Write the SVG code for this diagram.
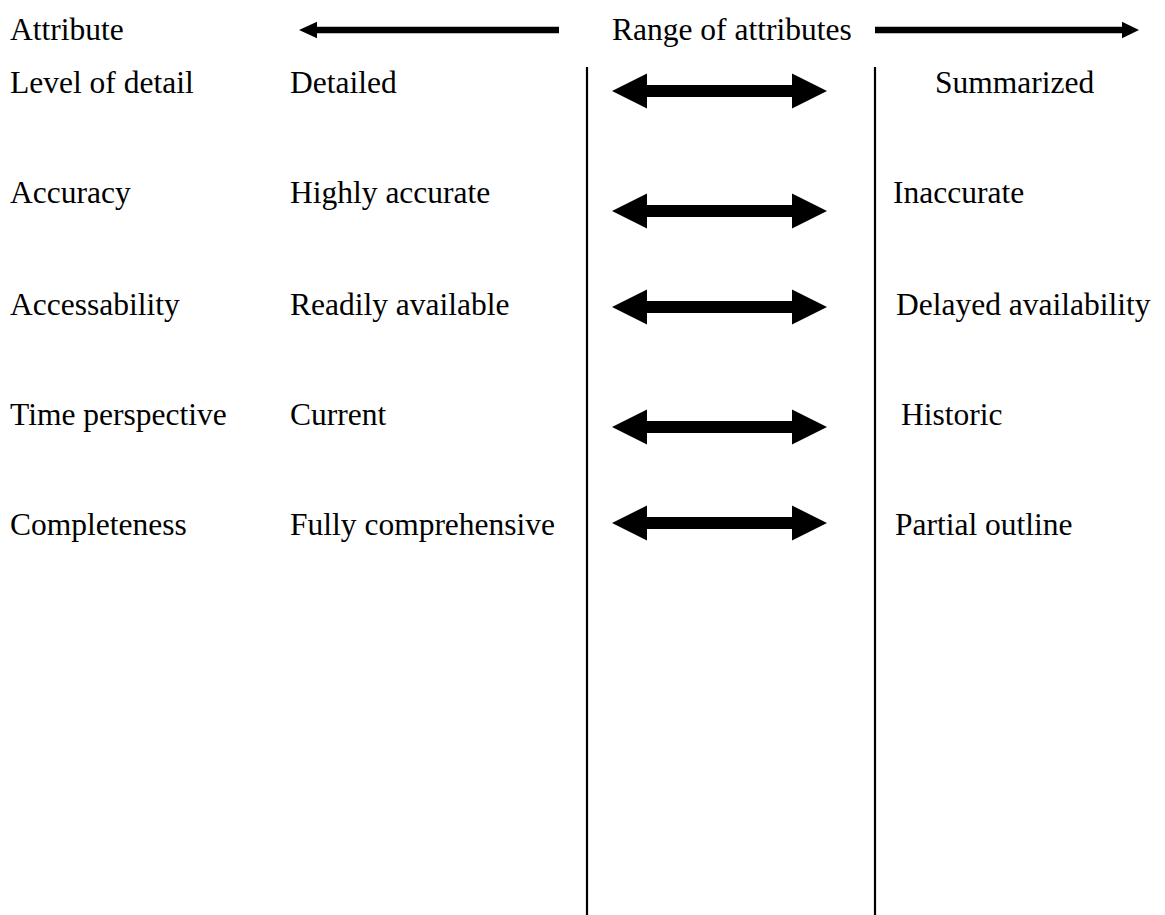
<svg xmlns="http://www.w3.org/2000/svg" width="1165" height="915" viewBox="0 0 1165 915">
  <style>
    text { font-family: "Liberation Serif", "Times New Roman", serif; font-size: 31.5px; fill: #000; }
    .divider { stroke: #000; stroke-width: 2.2; fill: none; }
    .shape { fill: #000; stroke: none; }
  </style>
  <defs>
    <!-- double-headed block arrow, centred on y=0 -->
    <polygon id="dbl" points="612,0 647,-17.5 647,-6 792,-6 792,-17.5 827,0 792,17.5 792,6 647,6 647,17.5"/>
  </defs>
  <rect width="1165" height="915" fill="#fff"/>

  <!-- header -->
  <g id="header">
    <text x="10" y="40">Attribute</text>
    <text x="612" y="40">Range of attributes</text>
  </g>

  <!-- connectors -->
  <g id="connectors">
    <polygon class="shape" points="299,30 317,21.7 317,26.7 559,26.7 559,33.3 317,33.3 317,38.3"/>
    <polygon class="shape" points="1139,30 1122,21.7 1122,26.7 875,26.7 875,33.3 1122,33.3 1122,38.3"/>
    <line class="divider" x1="587" y1="67" x2="587" y2="915"/>
    <line class="divider" x1="875" y1="67" x2="875" y2="915"/>
    <use href="#dbl" class="shape" transform="translate(0,91)"/>
    <use href="#dbl" class="shape" transform="translate(0,211)"/>
    <use href="#dbl" class="shape" transform="translate(0,307)"/>
    <use href="#dbl" class="shape" transform="translate(0,427)"/>
    <use href="#dbl" class="shape" transform="translate(0,523)"/>
  </g>

  <!-- rows -->
  <g id="row-detail">
    <text x="10" y="93">Level of detail</text>
    <text x="290" y="93">Detailed</text>
    <text x="935" y="93">Summarized</text>
  </g>
  <g id="row-accuracy">
    <text x="10" y="203">Accuracy</text>
    <text x="290" y="203">Highly accurate</text>
    <text x="893" y="203">Inaccurate</text>
  </g>
  <g id="row-accessability">
    <text x="10" y="315">Accessability</text>
    <text x="290" y="315">Readily available</text>
    <text x="896" y="315">Delayed availability</text>
  </g>
  <g id="row-time">
    <text x="10" y="425">Time perspective</text>
    <text x="290" y="425">Current</text>
    <text x="901" y="425">Historic</text>
  </g>
  <g id="row-completeness">
    <text x="10" y="535">Completeness</text>
    <text x="290" y="535">Fully comprehensive</text>
    <text x="895" y="535">Partial outline</text>
  </g>
</svg>
